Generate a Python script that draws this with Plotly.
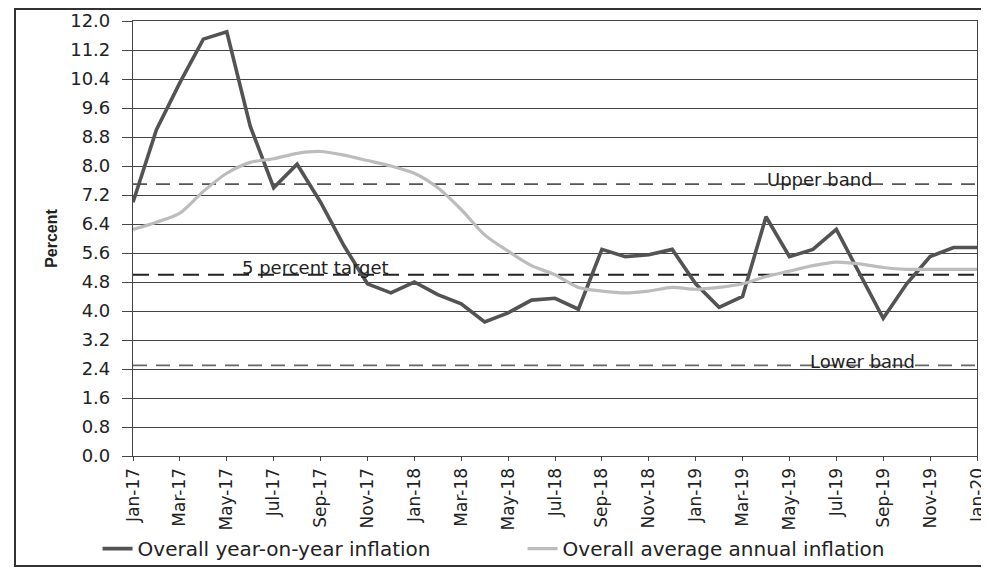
import plotly.graph_objects as go

months = ["Jan-17", "Feb-17", "Mar-17", "Apr-17", "May-17", "Jun-17", "Jul-17", "Aug-17", "Sep-17", "Oct-17", "Nov-17", "Dec-17",
          "Jan-18", "Feb-18", "Mar-18", "Apr-18", "May-18", "Jun-18", "Jul-18", "Aug-18", "Sep-18", "Oct-18", "Nov-18", "Dec-18",
          "Jan-19", "Feb-19", "Mar-19", "Apr-19", "May-19", "Jun-19", "Jul-19", "Aug-19", "Sep-19", "Oct-19", "Nov-19", "Dec-19",
          "Jan-20"]

yoy_inflation = [7.0, 9.0, 10.3, 11.5, 11.7, 9.1, 7.4, 8.05, 7.0, 5.8, 4.75, 4.5,
                 4.8, 4.45, 4.2, 3.7, 3.95, 4.3, 4.35, 4.05, 5.7, 5.5, 5.55, 5.7,
                 4.75, 4.1, 4.4, 6.6, 5.5, 5.7, 6.25, 5.05, 3.8, 4.75, 5.5, 5.75,
                 5.75]

avg_annual_inflation = [6.25, 6.45, 6.7, 7.3, 7.8, 8.1, 8.2, 8.35, 8.4, 8.3, 8.15, 8.0,
                        7.8, 7.4, 6.8, 6.1, 5.65, 5.25, 5.0, 4.65, 4.55, 4.5, 4.55, 4.65,
                        4.6, 4.65, 4.75, 4.95, 5.1, 5.25, 5.35, 5.3, 5.2, 5.15, 5.15, 5.15,
                        5.15]

band_names = ["Upper band", "5 percent target", "Lower band"]
band_values = [7.5, 5.0, 2.5]

series_names = ["Overall year-on-year inflation", "Overall average annual inflation"]
tick_months = months[::2]
y_ticks = [round(0.8 * i, 1) for i in range(16)]

FONT = "DejaVu Sans, Liberation Sans, Arial, sans-serif"

# the page body has an 8px default margin, so the figure is sized/offset to compensate
W, H = 981, 565
L, T, PW, PH = 125, 13, 844, 435

fig = go.Figure()

band_styles = [
    dict(color="#555555", width=1.6, dash="14px,9px"),
    dict(color="#222222", width=2.0, dash="16px,9px"),
    dict(color="#666666", width=1.6, dash="14px,9px"),
]
for name, val, st in zip(band_names, band_values, band_styles):
    fig.add_trace(go.Scatter(x=[months[0], months[-1]], y=[val, val], mode="lines",
                             line=st, showlegend=False, hoverinfo="skip"))

fig.add_trace(go.Scatter(x=months, y=yoy_inflation, mode="lines", name=series_names[0],
                         line=dict(color="#535353", width=3.6)))
fig.add_trace(go.Scatter(x=months, y=avg_annual_inflation, mode="lines", name=series_names[1],
                         line=dict(color="#bcbcbc", width=3.2, shape="spline", smoothing=0.8)))

# band labels (positions are layout choices, in axis units)
label_pos = [(29.3, 7.62), (7.8, 5.2), (31.1, 2.6)]
for name, (xx, yy) in zip(band_names, label_pos):
    fig.add_annotation(x=xx, y=yy, text=name, showarrow=False, xanchor="center", yanchor="middle",
                       font=dict(family=FONT, size=18, color="#222222"))

# outer frame of the scanned figure (right side runs off the page, as in the scan)
fig.add_shape(type="rect", xref="paper", yref="paper",
              x0=(7 - L) / PW, x1=(1000 - L) / PW,
              y0=(T + PH - 558) / PH, y1=(T + PH - 1) / PH,
              line=dict(color="#333333", width=2), layer="below")

fig.update_layout(
    width=W, height=H,
    margin=dict(l=L, r=W - L - PW, t=T, b=H - T - PH, autoexpand=False),
    paper_bgcolor="white", plot_bgcolor="white",
    font=dict(family=FONT, color="#222222", size=16),
    showlegend=True,
    legend=dict(orientation="h", x=-0.042, y=-0.168, xanchor="left", yanchor="top",
                font=dict(family=FONT, size=20, color="#222222"),
                entrywidth=380, entrywidthmode="pixels", itemwidth=30,
                bgcolor="rgba(0,0,0,0)"),
    xaxis=dict(type="category", categoryorder="array", categoryarray=months,
               range=[0, len(months) - 1], automargin=False,
               tickmode="array", tickvals=tick_months, ticktext=tick_months,
               tickangle=-90, tickfont=dict(family=FONT, size=17, color="#222222"),
               ticks="outside", ticklen=4, tickcolor="#444444",
               showgrid=False, showline=True, linecolor="#444444", linewidth=1.2,
               mirror=True, zeroline=False),
    yaxis=dict(range=[0, 12], tickmode="array", tickvals=y_ticks, automargin=False,
               ticktext=[f"{v:.1f}" for v in y_ticks],
               tickfont=dict(family=FONT, size=18, color="#222222"),
               ticks="outside", ticklen=10, tickcolor="#444444", ticklabelstandoff=8,
               showgrid=True, gridcolor="#444444", gridwidth=1,
               showline=True, linecolor="#444444", linewidth=1.2, mirror=True,
               zeroline=False,
               title=dict(text="<b>Percent</b>", standoff=8,
                          font=dict(family="Liberation Sans, Arial, sans-serif", size=16, color="#222222"))),
)

fig.write_html("out.html")
